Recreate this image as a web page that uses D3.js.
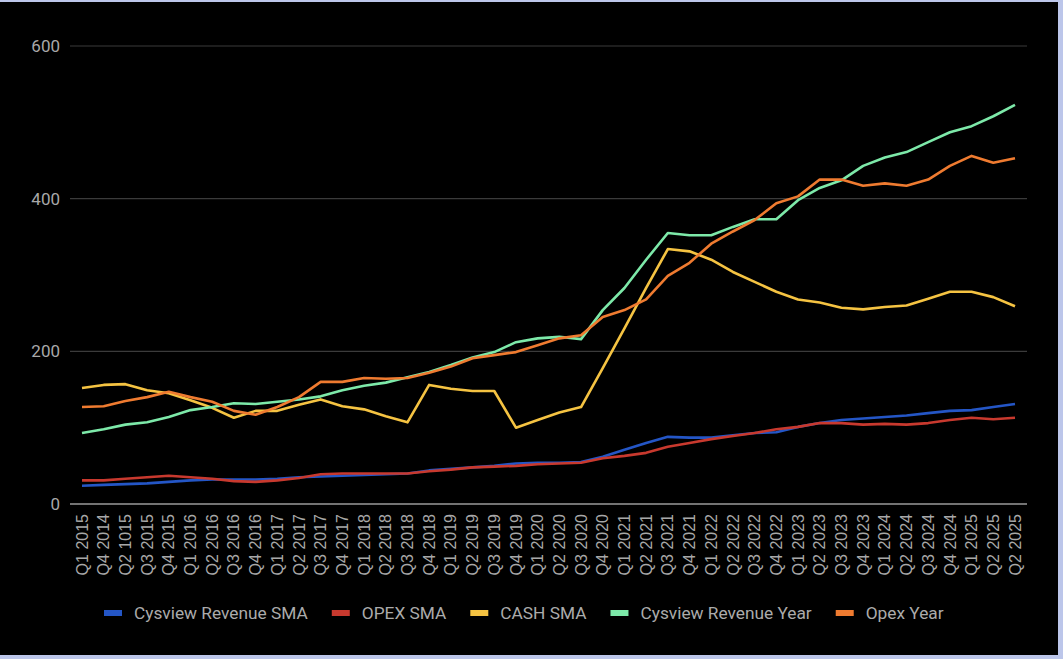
<!DOCTYPE html>
<html>
<head>
<meta charset="utf-8">
<script src="https://cdn.jsdelivr.net/npm/d3@7"></script>
<style>
  html, body { margin: 0; padding: 0; background: #bcc6ea; }
  svg { display: block; }
</style>
</head>
<body>
<div id="chart"></div>
<script>
var quarters = ["Q1 2015","Q4 2014","Q2 1015","Q3 2015","Q4 2015","Q1 2016","Q2 2016","Q3 2016","Q4 2016",
  "Q1 2017","Q2 2017","Q3 2017","Q4 2017","Q1 2018","Q2 2018","Q3 2018","Q4 2018","Q1 2019","Q2 2019",
  "Q3 2019","Q4 2019","Q1 2020","Q2 2020","Q3 2020","Q4 2020","Q1 2021","Q2 2021","Q3 2021","Q4 2021",
  "Q1 2022","Q2 2022","Q3 2022","Q4 2022","Q1 2023","Q2 2023","Q3 2023","Q4 2023","Q1 2024","Q2 2024",
  "Q3 2024","Q4 2024","Q1 2025","Q2 2025","Q2 2025"];

var revenueSMA = [24,25,26,27,29,31,32,32,32,33,35,36,37,38,39,40,44,46,48,50,53,54,54,55,
  62,71,80,88,87,87,90,93,94,101,106,110,112,114,116,119,122,123,127,131];
var opexSMA = [31,31,33,35,37,35,33,30,29,31,34,39,40,40,40,40,43,45,48,49,50,52,53,54,
  60,63,67,75,80,85,89,93,98,101,106,106,104,105,104,106,110,113,111,113];
var cashSMA = [152,156,157,149,145,136,126,113,122,122,130,137,128,124,115,107,156,151,148,148,100,110,120,127,
  178,230,283,334,331,320,304,291,278,268,264,257,255,258,260,269,278,278,271,259];
var revenueYear = [93,98,104,107,114,123,127,132,131,134,137,141,149,155,159,166,173,182,192,199,212,217,219,216,
  254,283,320,355,352,352,363,373,373,398,414,424,443,454,461,474,487,495,508,523];
var opexYear = [127,128,135,140,147,140,134,122,117,127,140,160,160,165,164,165,172,180,191,195,199,208,217,221,
  245,254,268,299,316,341,357,372,394,403,425,425,417,420,417,425,443,456,447,453];

var seriesNames = ["Cysview Revenue SMA","OPEX SMA","CASH SMA","Cysview Revenue Year","Opex Year"];
var seriesColors = ["#2456c6","#c8392e","#f5c342","#7de9a9","#ef7b30"];
var seriesValues = [revenueSMA, opexSMA, cashSMA, revenueYear, opexYear];
var yTicks = [0,200,400,600];

var W = 1063, H = 659;

var svg = d3.select("#chart").append("svg")
  .attr("width", W)
  .attr("height", H);

svg.append("rect")
  .attr("x", 0).attr("y", 2)
  .attr("width", 1058).attr("height", 653)
  .attr("fill", "#000");

var x = d3.scaleLinear()
  .domain([0, quarters.length - 1])
  .range([82, 1015]);

var y = d3.scaleLinear()
  .domain([0, 600])
  .range([504, 46]);

// gridlines
svg.append("g")
  .selectAll("line")
  .data(yTicks.filter(function(d) { return d > 0; }))
  .enter().append("line")
  .attr("x1", 70).attr("x2", 1027)
  .attr("y1", function(d) { return y(d); })
  .attr("y2", function(d) { return y(d); })
  .attr("stroke", "#3b3b3b")
  .attr("stroke-width", 1.2);

// y labels
svg.append("g")
  .selectAll("text")
  .data(yTicks)
  .enter().append("text")
  .text(function(d) { return d; })
  .attr("x", 60)
  .attr("y", function(d) { return y(d); })
  .attr("dy", "0.35em")
  .attr("text-anchor", "end")
  .attr("font-family", "Roboto, sans-serif")
  .attr("font-size", "17px")
  .attr("fill", "#a8a8a8");

// lines
var line = d3.line()
  .x(function(d, i) { return x(i); })
  .y(function(d) { return y(d); });

for (var s = 0; s < seriesValues.length; s++) {
  svg.append("path")
    .datum(seriesValues[s])
    .attr("d", line)
    .attr("fill", "none")
    .attr("stroke", seriesColors[s])
    .attr("stroke-width", 2.6)
    .attr("stroke-linejoin", "round");
}

// baseline
svg.append("line")
  .attr("x1", 70).attr("x2", 1027)
  .attr("y1", y(0)).attr("y2", y(0))
  .attr("stroke", "#9a9a9a")
  .attr("stroke-width", 1.5);

// x labels
svg.append("g")
  .selectAll("text")
  .data(quarters)
  .enter().append("text")
  .text(function(d) { return d; })
  .attr("transform", function(d, i) { return "translate(" + x(i) + ",514) rotate(-90)"; })
  .attr("dy", "0.35em")
  .attr("text-anchor", "end")
  .attr("font-family", "'Liberation Sans', Arial, sans-serif")
  .attr("font-size", "16px")
  .attr("fill", "#a8a8a8");

// legend
var legend = svg.append("g");
var lx = 104;
for (var k = 0; k < seriesNames.length; k++) {
  legend.append("rect")
    .attr("x", lx).attr("y", 610)
    .attr("width", 18).attr("height", 6)
    .attr("fill", seriesColors[k]);
  var t = legend.append("text")
    .text(seriesNames[k])
    .attr("x", lx + 30)
    .attr("y", 613)
    .attr("dy", "0.35em")
    .attr("font-family", "Roboto, sans-serif")
    .attr("font-size", "17.3px")
    .attr("fill", "#ababab");
  lx = lx + 30 + t.node().getComputedTextLength() + 24;
}
</script>
</body>
</html>
